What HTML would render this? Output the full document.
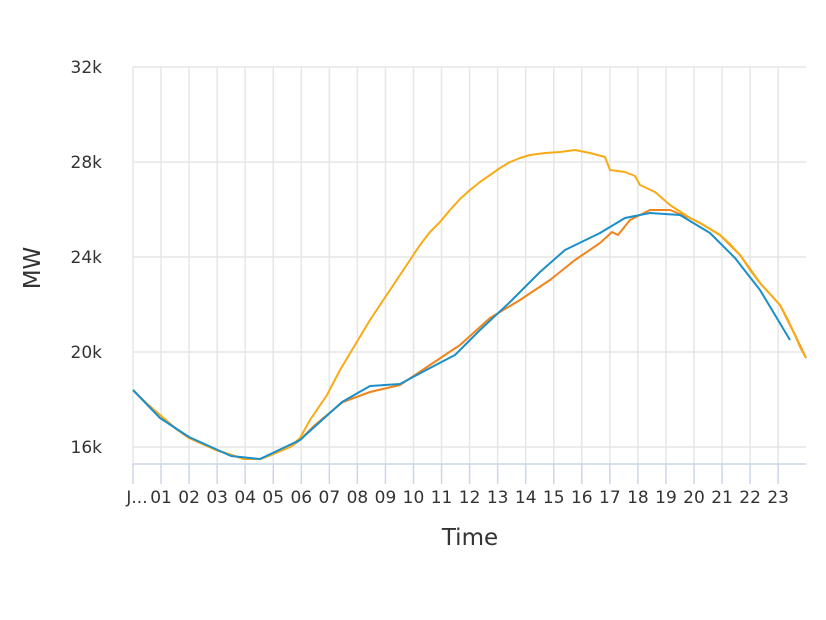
<!DOCTYPE html>
<html><head><meta charset="utf-8"><style>body{margin:0;background:#fff}svg{display:block;font-family:"DejaVu Sans","Liberation Sans",sans-serif}</style></head>
<body>
<svg width="826" height="620" viewBox="0 0 826 620">
<rect width="826" height="620" fill="#fff"/>
<g stroke="#e6e6e6" stroke-width="1.5">
<line x1="133" y1="67" x2="806" y2="67"/><line x1="133" y1="162" x2="806" y2="162"/><line x1="133" y1="257" x2="806" y2="257"/><line x1="133" y1="352" x2="806" y2="352"/><line x1="133" y1="447" x2="806" y2="447"/>
</g>
<g stroke="#e6e6e6" stroke-width="1.5" id="vg"></g>
<g stroke="#ccd6eb" stroke-width="1.5" id="tk"></g>
<line x1="133" y1="464" x2="806" y2="464" stroke="#ccd6eb" stroke-width="1.5"/>
<g font-size="17" fill="#333" text-anchor="end">
<text x="102" y="73">32k</text><text x="102" y="168">28k</text><text x="102" y="263">24k</text><text x="102" y="358">20k</text><text x="102" y="453">16k</text>
</g>
<g font-size="17" fill="#333" text-anchor="middle" id="xl"></g>
<text x="40" y="268" font-size="23" fill="#333" text-anchor="middle" transform="rotate(-90 40 268)">MW</text>
<text x="470" y="545" font-size="23" fill="#333" text-anchor="middle">Time</text>
<g fill="none" stroke-width="2" stroke-linejoin="round">
<polyline stroke="#f0841c" points="133,390 145,402 160,415 175,428 189,438 216,450 244,459 260,459 271,455 290,447 300,440 315,425 327,415 343,402 370,392 400,385 430,365 460,345 490,318 520,300 550,280 575,260 600,243 612,232 618,235 630,220 650,210 670,210 690,218 700,223 720,235 740,255 760,283 780,305 795,335 806,358"/>
<polyline stroke="#f9ab16" points="133,390 145,402 160,415 175,428 189,438 216,450 244,459 260,459 271,455 290,447 300,438 310,420 327,395 340,370 355,345 370,320 390,290 410,260 420,245 430,232 440,222 450,210 460,199 470,190 480,182 490,175 500,168 510,162 520,158 530,155 545,153 560,152 575,150 590,153 605,157 610,170 625,172 635,176 640,185 655,192 670,205 690,218 700,223 710,229 720,235 730,244 740,255 750,270 760,283 770,294 780,305 788,320 795,335 800,347 806,358"/>
<polyline stroke="#1b8fc9" points="133,390 160,418 189,437 231,456 260,459 300,440 342,402 370,386 400,384 430,368 455,355 480,330 510,302 540,272 565,250 600,233 625,218 650,213 680,215 710,233 735,258 760,290 790,340"/>
</g>
<script>
var vg=document.getElementById('vg'),tk=document.getElementById('tk'),xl=document.getElementById('xl'),ns='http://www.w3.org/2000/svg';
for(var i=0;i<24;i++){var x=133+28.05*i;
var l=document.createElementNS(ns,'line');l.setAttribute('x1',x);l.setAttribute('x2',x);l.setAttribute('y1',67);l.setAttribute('y2',464);vg.appendChild(l);
var t=document.createElementNS(ns,'line');t.setAttribute('x1',x);t.setAttribute('x2',x);t.setAttribute('y1',464);t.setAttribute('y2',484);tk.appendChild(t);
var s=document.createElementNS(ns,'text');s.setAttribute('x',i==0?x+4:x);s.setAttribute('y',503);s.textContent=i==0?'J...':(i<10?'0'+i:''+i);xl.appendChild(s);}
</script>
</svg>
</body></html>
